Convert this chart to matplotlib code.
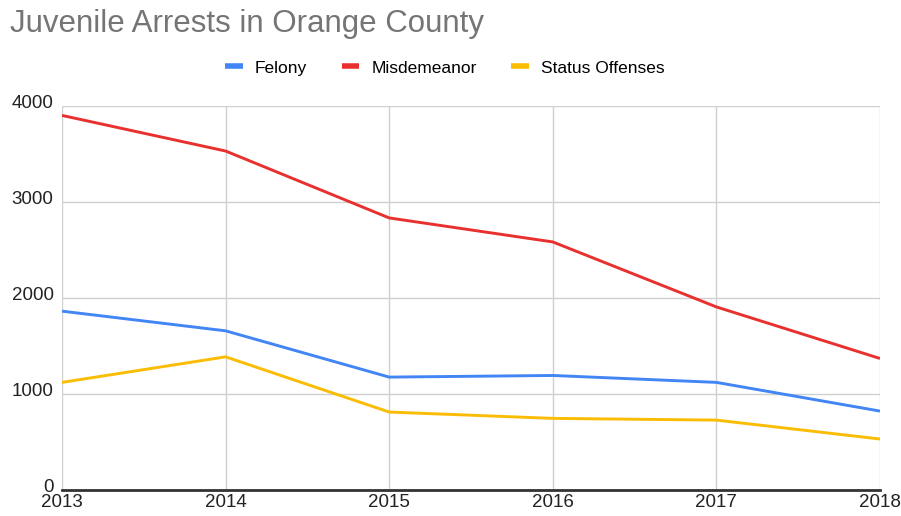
import matplotlib
matplotlib.use("Agg")
import matplotlib.pyplot as plt
import matplotlib.transforms as mtransforms

plt.rcParams['font.family'] = ['Liberation Sans', 'DejaVu Sans']

years = [2013, 2014, 2015, 2016, 2017, 2018]
felony = [1863, 1658, 1176, 1193, 1121, 822]
misdemeanor = [3902, 3531, 2834, 2584, 1907, 1370]
status_offenses = [1121, 1387, 812, 746, 728, 531]
y_ticks = [0, 1000, 2000, 3000, 4000]

fig = plt.figure(figsize=(9.01, 5.16), dpi=100)
ax = fig.add_axes([62 / 901, 26 / 516, 818 / 901, 384 / 516])

ax.plot(years, felony, color="#4285F4", lw=2.1, label="Felony", solid_capstyle="butt")
ax.plot(years, misdemeanor, color="#E8312F", lw=2.1, label="Misdemeanor", solid_capstyle="butt")
ax.plot(years, status_offenses, color="#FBBC04", lw=2.1, label="Status Offenses", solid_capstyle="butt")

ax.set_xlim(2013, 2018)
ax.set_ylim(0, 4000)
ax.set_xticks(years)
ax.set_yticks(y_ticks)
ax.grid(True, color="#d0d0d0", lw=1.0)
ax.set_axisbelow(True)
for side in ["top", "left", "right"]:
    ax.spines[side].set_visible(False)
ax.spines["bottom"].set_color("#333333")
ax.spines["bottom"].set_linewidth(2.0)
ax.tick_params(length=0, labelsize=13.5, colors="#222222")
ax.tick_params(axis="x", pad=3)
ax.tick_params(axis="y", pad=6)
# y labels sit a little above their gridlines
for lab in ax.get_yticklabels():
    lab.set_verticalalignment("center")
    lab.set_transform(lab.get_transform() + mtransforms.ScaledTranslation(0, 3 / 100, fig.dpi_scale_trans))

fig.text(10 / 901, 1 - 24 / 516, "Juvenile Arrests in Orange County", fontsize=22.5,
         color="#757575", va="center", ha="left")

leg = fig.legend(loc="center", bbox_to_anchor=(445 / 901, 1 - 68 / 516), ncol=3, frameon=False,
                 fontsize=12.5, handlelength=1.0, handletextpad=0.7, columnspacing=2.0)
for h in leg.legend_handles:
    h.set_linewidth(4)

fig.savefig("out.png", dpi=100)
